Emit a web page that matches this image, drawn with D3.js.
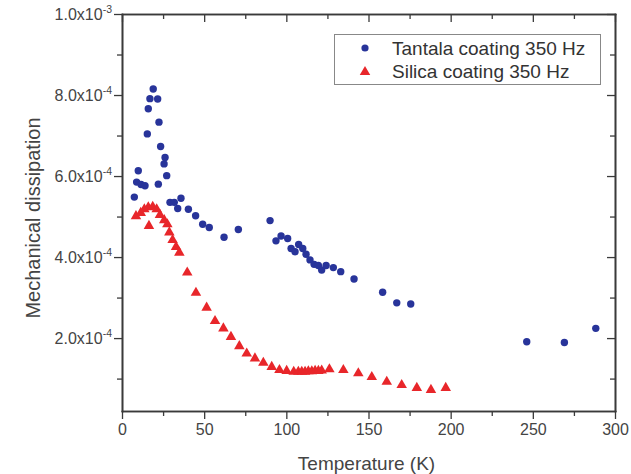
<!DOCTYPE html>
<html>
<head>
<meta charset="utf-8">
<script src="https://cdn.jsdelivr.net/npm/d3@7"></script>
<style>
body { margin: 0; background: #fff; }
text { font-family: "Liberation Sans", Arial, sans-serif; }
</style>
</head>
<body>
<svg id="chart" width="631" height="474"></svg>
<script>
// Tantala coating 350 Hz (temperature K, dissipation)
var tantalaT = [7.5, 8.9, 9.9, 11.6, 14.0, 15.4, 16.0, 17.0, 19.0, 21.7, 22.1, 22.5, 23.5, 25.6, 26.2, 27.2,
    29.2, 31.8, 33.9, 35.9, 40.4, 44.8, 49.1, 53.1, 62.1, 70.8, 90.1, 93.7, 96.8, 100.8, 102.9, 105.3,
    107.5, 110.0, 112.0, 114.4, 116.9, 119.5, 121.5, 124.2, 128.6, 133.1, 141.2, 158.6, 167.2, 175.7,
    246.3, 269.2, 288.3];
var tantalaQ = [5.48e-4, 5.85e-4, 6.13e-4, 5.79e-4, 5.76e-4, 7.04e-4, 7.66e-4, 7.91e-4, 8.15e-4, 7.90e-4,
    5.80e-4, 7.33e-4, 6.73e-4, 6.30e-4, 6.46e-4, 6.01e-4, 5.35e-4, 5.35e-4, 5.20e-4, 5.45e-4, 5.18e-4,
    5.02e-4, 4.81e-4, 4.73e-4, 4.49e-4, 4.68e-4, 4.90e-4, 4.40e-4, 4.52e-4, 4.46e-4, 4.21e-4, 4.13e-4,
    4.31e-4, 4.21e-4, 4.07e-4, 3.93e-4, 3.82e-4, 3.79e-4, 3.68e-4, 3.79e-4, 3.74e-4, 3.64e-4, 3.46e-4,
    3.13e-4, 2.87e-4, 2.84e-4, 1.91e-4, 1.89e-4, 2.24e-4];

// Silica coating 350 Hz
var silicaT = [8.5, 11.4, 13.6, 16.0, 16.4, 18.7, 21.1, 23.1, 25.7, 27.6, 28.8, 30.8, 32.9, 34.9, 39.7,
    45.0, 51.5, 56.6, 61.7, 66.3, 71.4, 75.9, 80.9, 86.0, 91.1, 95.8, 100.2, 104.5, 107.3, 109.4, 111.4,
    113.4, 115.5, 117.5, 119.5, 121.5, 126.2, 134.7, 143.8, 152.0, 161.1, 170.2, 179.4, 188.0, 197.0];
var silicaQ = [5.01e-4, 5.09e-4, 5.18e-4, 5.23e-4, 4.77e-4, 5.24e-4, 5.18e-4, 5.04e-4, 4.91e-4, 4.81e-4,
    4.61e-4, 4.42e-4, 4.25e-4, 4.11e-4, 3.62e-4, 3.12e-4, 2.75e-4, 2.42e-4, 2.24e-4, 2.03e-4, 1.80e-4,
    1.62e-4, 1.50e-4, 1.39e-4, 1.29e-4, 1.21e-4, 1.19e-4, 1.17e-4, 1.17e-4, 1.17e-4, 1.17e-4, 1.18e-4,
    1.18e-4, 1.19e-4, 1.19e-4, 1.20e-4, 1.23e-4, 1.21e-4, 1.13e-4, 1.04e-4, 0.92e-4, 0.84e-4, 0.77e-4,
    0.72e-4, 0.77e-4];

var seriesNames = ["Tantala coating 350 Hz", "Silica coating 350 Hz"];
var xTicks = [0, 50, 100, 150, 200, 250, 300];
var yTicks = [2e-4, 4e-4, 6e-4, 8e-4, 1e-3];

(function() {
    var blue = "#28349a", red = "#e8262a", axisCol = "#3a3a3a", textCol = "#444";

    var svg = d3.select("#chart");
    var pLeft = 122, pRight = 615, pTop = 14, pBottom = 411;

    var x = d3.scaleLinear().domain([0, 300]).range([pLeft, pRight]);
    var y = d3.scaleLinear().domain([2e-5, 1e-3]).range([pBottom, pTop]);

    var minorX = d3.range(25, 300, 50);
    var minorY = d3.range(1, 10, 2).map(function(d) { return d * 1e-4; });

    // axes: outward ticks bottom/left, inward mirrored ticks top/right
    svg.append("g").attr("class", "xlab").attr("transform", "translate(0," + pBottom + ")")
        .call(d3.axisBottom(x).tickValues(xTicks).tickSize(8).tickSizeOuter(0).tickFormat(d3.format("d")));
    svg.append("g").attr("transform", "translate(0," + pBottom + ")")
        .call(d3.axisBottom(x).tickValues(minorX).tickSize(5).tickSizeOuter(0).tickFormat(""));
    svg.append("g").attr("transform", "translate(0," + pTop + ")")
        .call(d3.axisTop(x).tickValues(xTicks).tickSize(-8).tickSizeOuter(0).tickFormat(""));
    svg.append("g").attr("transform", "translate(0," + pTop + ")")
        .call(d3.axisTop(x).tickValues(minorX).tickSize(-5).tickSizeOuter(0).tickFormat(""));

    svg.append("g").attr("transform", "translate(" + pLeft + ",0)")
        .call(d3.axisLeft(y).tickValues(yTicks).tickSize(8).tickSizeOuter(0).tickFormat(""));
    svg.append("g").attr("transform", "translate(" + pLeft + ",0)")
        .call(d3.axisLeft(y).tickValues(minorY).tickSize(5).tickSizeOuter(0).tickFormat(""));
    svg.append("g").attr("transform", "translate(" + pRight + ",0)")
        .call(d3.axisRight(y).tickValues(yTicks).tickSize(-8).tickSizeOuter(0).tickFormat(""));
    svg.append("g").attr("transform", "translate(" + pRight + ",0)")
        .call(d3.axisRight(y).tickValues(minorY).tickSize(-5).tickSizeOuter(0).tickFormat(""));

    svg.selectAll(".domain").attr("stroke", axisCol).attr("stroke-width", 1.6).attr("stroke-linecap", "square");
    svg.selectAll(".tick line").attr("stroke", axisCol).attr("stroke-width", 1.3);
    svg.selectAll(".xlab .tick text").attr("fill", textCol).attr("font-size", 16)
        .attr("font-family", "'Liberation Sans', Arial, sans-serif").attr("y", 13).attr("dy", "0.71em");

    // y tick labels with superscript exponent
    yTicks.forEach(function(v) {
        var exp = Math.floor(Math.log10(v) + 1e-9);
        var mant = v / Math.pow(10, exp);
        var t = svg.append("text")
            .attr("x", pLeft - 10).attr("y", y(v) + 6)
            .attr("text-anchor", "end")
            .attr("fill", textCol)
            .style("font-size", "16px");
        t.append("tspan").text(mant.toFixed(1) + "x10");
        t.append("tspan").attr("dy", -7).style("font-size", "10.5px").text(exp);
    });

    // axis titles
    svg.append("text")
        .attr("x", (pLeft + pRight) / 2 - 2).attr("y", 470)
        .attr("text-anchor", "middle").attr("fill", textCol)
        .style("font-size", "19px").text("Temperature (K)");
    svg.append("text")
        .attr("transform", "translate(40,218) rotate(-90)")
        .attr("text-anchor", "middle").attr("fill", textCol)
        .style("font-size", "20px").text("Mechanical dissipation");

    // points
    var tri = d3.symbol().type(d3.symbolTriangle).size(48);

    svg.append("g").selectAll("circle")
        .data(d3.zip(tantalaT, tantalaQ)).enter().append("circle")
        .attr("cx", function(d) { return x(d[0]); })
        .attr("cy", function(d) { return y(d[1]); })
        .attr("r", 3.7)
        .attr("fill", blue);

    svg.append("g").selectAll("path")
        .data(d3.zip(silicaT, silicaQ)).enter().append("path")
        .attr("d", tri)
        .attr("transform", function(d) { return "translate(" + x(d[0]) + "," + y(d[1]) + ")"; })
        .attr("fill", red);

    // legend
    var lg = svg.append("g");
    lg.append("rect").attr("x", 334.5).attr("y", 34.5).attr("width", 266).attr("height", 50)
        .attr("fill", "#fff").attr("stroke", "#888").attr("stroke-width", 1);
    lg.append("circle").attr("cx", 365).attr("cy", 48).attr("r", 3.6).attr("fill", blue);
    lg.append("path").attr("d", tri).attr("transform", "translate(365,72)").attr("fill", red);
    seriesNames.forEach(function(n, i) {
        lg.append("text").attr("x", 392).attr("y", 55 + i * 23)
            .attr("fill", "#333").style("font-size", "19px").text(n);
    });
})();
</script>
</body>
</html>
